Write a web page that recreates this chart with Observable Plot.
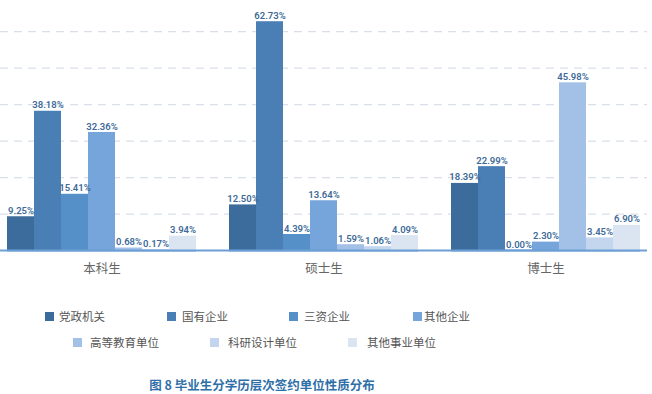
<!DOCTYPE html>
<html><head><meta charset="utf-8">
<script src="https://cdn.jsdelivr.net/npm/d3@7"></script>
<script src="https://cdn.jsdelivr.net/npm/@observablehq/plot@0.6"></script>
<style>
body{margin:0;background:#fff;font-family:"Noto Sans CJK SC",sans-serif;}
#wrap{position:relative;width:652px;height:394px;overflow:hidden;background:#fff}
.layer{position:absolute;left:0;top:0}
.lg{position:absolute;display:flex;align-items:center;font-size:11.5px;color:#555;white-space:nowrap;height:16px;line-height:16px}
.sw{width:9px;height:9px;display:inline-block;flex:none}
#title{position:absolute;top:376px;left:0;width:524px;text-align:center;font-size:12.5px;font-weight:bold;color:#2f6fa8;line-height:18px}
</style></head><body><div id="wrap"><div id="grid" class="layer"></div><div id="chart" class="layer"></div></div>
<script>
const groups = ["本科生", "硕士生", "博士生"];
const types = ["党政机关", "国有企业", "三资企业", "其他企业", "高等教育单位", "科研设计单位", "其他事业单位"];
const colors = ["#3b6c9c", "#4a7fb5", "#5690c9", "#75a5da", "#a3c1e6", "#c4d6ee", "#dbe5f1"];
const undergrad = [9.25, 38.18, 15.41, 32.36, 0.68, 0.17, 3.94];
const master = [12.50, 62.73, 4.39, 13.64, 1.59, 1.06, 4.09];
const doctor = [18.39, 22.99, 0.00, 2.30, 45.98, 3.45, 6.90];
const gridValues = [10, 20, 30, 40, 50, 60];
const titleText = "图 8 毕业生分学历层次签约单位性质分布";

// layout only: legend item [left, centerY, gap]
const legendLayout = [[45,316,5],[167,316,6],[289,316,6],[413,316,2],[73,342,8],[210,342,9],[348,342,10]];

const seriesByGroup = [undergrad, master, doctor];
const data = groups.flatMap((g, gi) => types.map((t, ti) => ({group: g, type: t, value: seriesByGroup[gi][ti]})));

const common = {
  width: 652, height: 290,
  marginLeft: 0, marginRight: 5, marginTop: 2, marginBottom: 40,
  y: {domain: [0, 68], axis: null}
};

const grid = Plot.plot({
  ...common,
  style: {background: "transparent"},
  marks: [
    Plot.ruleY(gridValues, {stroke: "#d9e0ea", strokeWidth: 1.2, strokeDasharray: "8,6"}),
    Plot.ruleY([0], {stroke: "#6d9fd6", strokeWidth: 2})
  ]
});
document.getElementById("grid").appendChild(grid);

const chart = Plot.plot({
  ...common,
  style: {background: "transparent", fontFamily: "'Noto Sans CJK SC', sans-serif", color: "#666", fontSize: "12.5px"},
  fx: {domain: groups, paddingInner: 0.149, paddingOuter: 0.0315, label: null, axis: "bottom", tickSize: 0, tickPadding: 14},
  x: {domain: types, padding: 0, axis: null},
  color: {domain: types, range: colors},
  marks: [
    Plot.barY(data, {fx: "group", x: "type", y: "value", fill: "type"}),
    Plot.ruleY([0], {stroke: "#6d9fd6", strokeWidth: 2}),
    Plot.text(data, {fx: "group", x: "type", y: "value", text: d => d.value.toFixed(2) + "%", dy: -6, fill: "#3d6a98", fontSize: 9.5, fontWeight: 600, fontFamily: "Roboto, sans-serif"})
  ]
});
document.getElementById("chart").appendChild(chart);

const wrap = document.getElementById("wrap");
types.forEach((t, i) => {
  const [left, cy, gap] = legendLayout[i];
  const el = document.createElement("div");
  el.className = "lg";
  el.style.left = left + "px";
  el.style.top = (cy - 8) + "px";
  const sw = document.createElement("span");
  sw.className = "sw";
  sw.style.background = colors[i];
  sw.style.marginRight = gap + "px";
  el.appendChild(sw);
  el.appendChild(document.createTextNode(t));
  wrap.appendChild(el);
});
const ttl = document.createElement("div");
ttl.id = "title";
ttl.textContent = titleText;
wrap.appendChild(ttl);
</script></body></html>
